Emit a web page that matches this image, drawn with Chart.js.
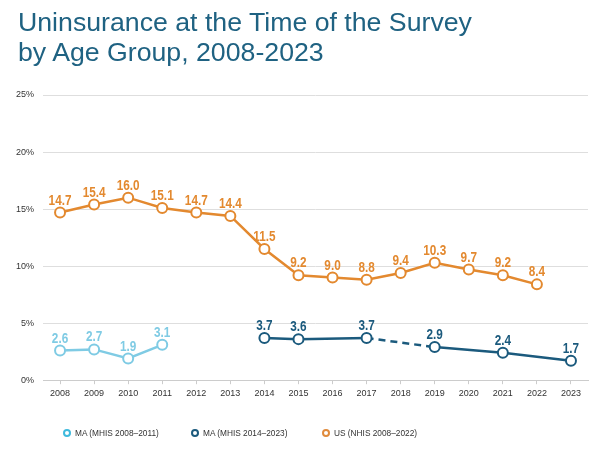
<!DOCTYPE html>
<html>
<head>
<meta charset="utf-8">
<script src="https://cdn.jsdelivr.net/npm/chart.js@4.4.0/dist/chart.umd.min.js"></script>
<style>
  html, body { margin: 0; padding: 0; background: #fff; }
  #wrap { position: relative; width: 600px; height: 473px; }
  #title {
    position: absolute; left: 18px; top: 7px; margin: 0;
    font-family: "Liberation Sans", Arial, sans-serif; font-weight: normal;
    font-size: 26.7px; line-height: 30px; color: #1f6282;
  }
  #legend { position: absolute; left: 0; top: 426px; width: 600px; height: 14px;
    font-family: "Liberation Sans", Arial, sans-serif; font-size: 8.3px; color: #333; }
  .item { position: absolute; top: 0; height: 14px; line-height: 14px; white-space: nowrap; }
  .dot { display: inline-block; width: 4px; height: 4px; border-radius: 50%; border: 2.5px solid; background: #fff;
    vertical-align: middle; margin-right: 4px; position: relative; top: -1px; }
</style>
</head>
<body>
<div id="wrap">
  <canvas id="chart"></canvas>
  <h1 id="title">Uninsurance at the Time of the Survey<br>by Age Group, 2008-2023</h1>
  <div id="legend"></div>
</div>
<script>
// data
const years = ['2008','2009','2010','2011','2012','2013','2014','2015','2016','2017','2018','2019','2020','2021','2022','2023']
const maOld = [2.6, 2.7, 1.9, 3.1, null, null, null, null, null, null, null, null, null, null, null, null]
const maNew = [null, null, null, null, null, null, 3.7, 3.6, null, 3.7, null, 2.9, null, 2.4, null, 1.7]
const usData = [14.7, 15.4, 16.0, 15.1, 14.7, 14.4, 11.5, 9.2, 9.0, 8.8, 9.4, 10.3, 9.7, 9.2, 8.4, null]
const yTicks = [0, 5, 10, 15, 20, 25]
const seriesNames = ['MA (MHIS 2008\u20132011)', 'MA (MHIS 2014\u20132023)', 'US (NHIS 2008\u20132022)']

const lightBlue = '#7fcbe4'
const darkBlue = '#1b5a7d'
const orange = '#e3892f'
const legendColors = ['#3fbadd', darkBlue, '#e08b3c']
const legendLeft = [63, 191, 322]

// draw value labels above points (bold, squeezed a bit to look condensed)
const valueLabels = {
    id: 'valueLabels',
    afterDatasetsDraw(chart) {
        const ctx = chart.ctx
        const squeeze = 0.84
        chart.data.datasets.forEach((ds, i) => {
            const meta = chart.getDatasetMeta(i)
            meta.data.forEach((pt, j) => {
                const v = ds.data[j]
                if (v === null || v === undefined) return
                ctx.save()
                ctx.font = 'bold 14px "Liberation Sans", Arial, sans-serif'
                ctx.textAlign = 'center'
                ctx.textBaseline = 'alphabetic'
                ctx.fillStyle = ds.borderColor
                ctx.translate(pt.x, pt.y - 8)
                ctx.scale(squeeze, 1)
                ctx.fillText(v.toFixed(1), 0, 0)
                ctx.restore()
            })
        })
    }
}

function makeSet(label, data, color) {
    return {
        label: label,
        data: data,
        borderColor: color,
        backgroundColor: '#fff',
        borderWidth: 2.5,
        pointRadius: 5,
        pointHoverRadius: 5,
        pointBorderWidth: 2,
        pointBackgroundColor: '#fff',
        pointBorderColor: color,
        tension: 0
    }
}

const maNewSet = makeSet(seriesNames[1], maNew, darkBlue)
maNewSet.spanGaps = true
// 2017 -> 2019 is dashed (2018 missing)
maNewSet.segment = {
    borderDash: (ctx) => (ctx.p0DataIndex === 9 || ctx.p0DataIndex === 10) ? [7, 5] : undefined
}

const config = {
    type: 'line',
    data: {
        labels: years,
        datasets: [
            makeSet(seriesNames[0], maOld, lightBlue),
            maNewSet,
            makeSet(seriesNames[2], usData, orange)
        ]
    },
    options: {
        responsive: true,
        maintainAspectRatio: false,
        animation: false,
        layout: { padding: { left: 7, right: 12, top: 95, bottom: 70 } },
        plugins: {
            legend: { display: false },
            tooltip: { enabled: false }
        },
        scales: {
            x: {
                offset: true,
                grid: { drawOnChartArea: false, drawTicks: true, tickLength: 4, color: '#ccc' },
                border: { color: '#ccc' },
                ticks: {
                    color: '#333',
                    padding: 4,
                    maxRotation: 0,
                    autoSkip: false,
                    font: { family: '"Liberation Sans", Arial, sans-serif', size: 9 }
                }
            },
            y: {
                min: 0,
                max: 25,
                afterBuildTicks: (axis) => { axis.ticks = yTicks.map(v => ({ value: v })) },
                grid: { color: '#dedede', drawTicks: false },
                border: { display: false },
                ticks: {
                    color: '#333',
                    padding: 9,
                    font: { family: '"Liberation Sans", Arial, sans-serif', size: 9 },
                    callback: (v) => v + '%'
                }
            }
        }
    },
    plugins: [valueLabels]
}

// legend built from the series names
function buildLegend() {
    const box = document.querySelector('#legend')
    seriesNames.forEach((name, i) => {
        const item = document.createElement('div')
        item.className = 'item'
        item.style.left = legendLeft[i] + 'px'
        const dot = document.createElement('span')
        dot.className = 'dot'
        dot.style.borderColor = legendColors[i]
        item.appendChild(dot)
        item.appendChild(document.createTextNode(name))
        box.appendChild(item)
    })
}

document.addEventListener('DOMContentLoaded', () => {
    buildLegend()
    new Chart(document.querySelector('#chart'), config)
})
</script>
</body>
</html>
